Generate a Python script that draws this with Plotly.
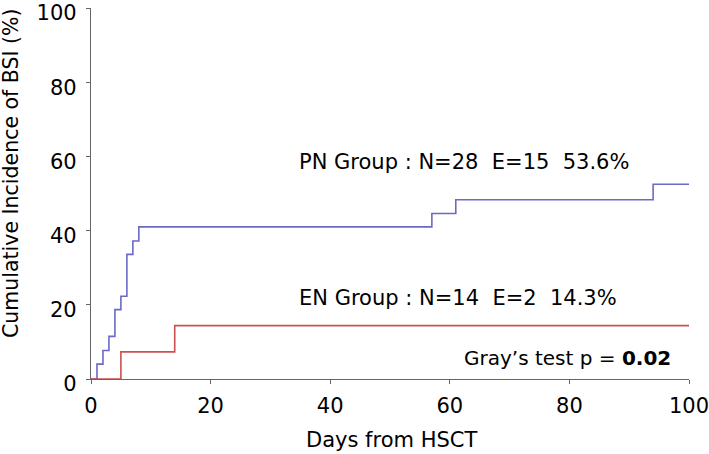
import plotly.graph_objects as go

# Data (step functions: day, cumulative incidence %)
pn_days = [0, 1, 2, 3, 4, 5, 6, 7, 8, 57, 61, 94, 100]
pn_inc = [0, 4.0, 7.7, 11.5, 18.7, 22.3, 33.6, 37.2, 41.0, 44.6, 48.3, 52.5, 52.5]
en_days = [0, 5, 14, 100]
en_inc = [0, 7.3, 14.4, 14.4]

x_ticks = [0, 20, 40, 60, 80, 100]
y_ticks = [0, 20, 40, 60, 80, 100]

pn_label = "PN Group : N=28  E=15  53.6%"
en_label = "EN Group : N=14  E=2  14.3%"
test_label = "Gray\u2019s test p = <b>0.02</b>"

FONT = "DejaVu Sans, Liberation Sans, Arial, sans-serif"
FS = 21

fig = go.Figure()
fig.add_trace(go.Scatter(x=pn_days, y=pn_inc, mode="lines", line_shape="hv",
                         line=dict(color="#6a6ac6", width=1.6), showlegend=False))
fig.add_trace(go.Scatter(x=en_days, y=en_inc, mode="lines", line_shape="hv",
                         line=dict(color="#cc5050", width=1.6), showlegend=False))

fig.update_layout(
    width=709, height=454,
    margin=dict(l=91, r=20, t=8, b=75),
    paper_bgcolor="white", plot_bgcolor="white",
    font=dict(family=FONT, size=FS, color="black"),
    xaxis=dict(range=[0, 100], tickvals=x_ticks, showgrid=False, zeroline=False,
               showline=True, linecolor="#666666", linewidth=1.2,
               ticks="outside", ticklen=4, tickcolor="#666666",
               tickfont=dict(size=FS), ticklabeloverflow="allow", automargin=False,
               ticklabelstandoff=4),
    yaxis=dict(range=[0, 100], tickvals=y_ticks, showgrid=False, zeroline=False,
               showline=True, linecolor="#666666", linewidth=1.2,
               ticks="outside", ticklen=4, tickcolor="#666666",
               tickfont=dict(size=FS), ticklabeloverflow="allow", automargin=False,
               ticklabelstandoff=5, ticklabelshift=5),
    annotations=[
        dict(text=pn_label, x=34.4, y=58.6, xref="x", yref="y", xanchor="left",
             yanchor="middle", showarrow=False, font=dict(size=FS)),
        dict(text=en_label, x=34.4, y=21.7, xref="x", yref="y", xanchor="left",
             yanchor="middle", showarrow=False, font=dict(size=FS)),
        dict(text=test_label, x=97.3, y=5.6, xref="x", yref="y", xanchor="right",
             yanchor="middle", showarrow=False, font=dict(size=20)),
        dict(text="Days from HSCT", x=0.503, y=(379 - 440) / 371, xref="paper", yref="paper",
             xanchor="center", yanchor="middle", showarrow=False, font=dict(size=FS)),
        dict(text="Cumulative Incidence of BSI (%)", x=(11 - 91) / 598, y=(379 - 173) / 371,
             xref="paper", yref="paper", xanchor="center", yanchor="middle",
             textangle=-90, showarrow=False, font=dict(size=20.5)),
    ],
)

fig.write_html("out.html", config={"displayModeBar": False},
               post_script="document.body.style.margin='0';document.body.style.padding='0';")
